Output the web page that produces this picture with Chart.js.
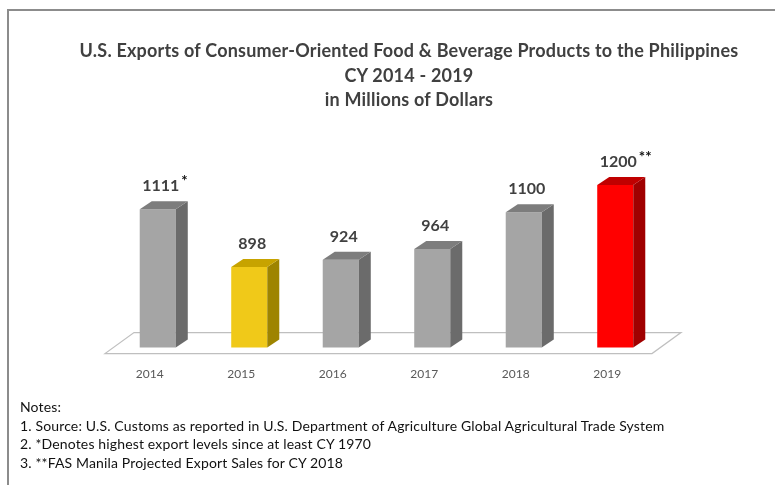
<!DOCTYPE html>
<html>
<head>
<meta charset="utf-8">
<script src="https://cdn.jsdelivr.net/npm/chart.js@4"></script>
<style>
  html, body { margin: 0; padding: 0; background: #fff; }
  #wrap { position: relative; width: 775px; height: 485px; overflow: hidden; }
  #frame { position: absolute; left: 7px; top: 9px; right: -5px; bottom: -5px;
           border-top: 2px solid #8c8c8c; border-left: 2px solid #8c8c8c; }
  #chart { position: absolute; left: 0; top: 0; }
  #title { position: absolute; left: 40px; width: 738px; top: 38px; text-align: center;
           font: bold 18px Lato, sans-serif; letter-spacing: 0.2px; line-height: 24.5px; color: #404040; }
  #notes { position: absolute; left: 20px; top: 398px; font: 14px Lato, sans-serif;
           letter-spacing: 0.15px; line-height: 18.5px; color: #111; }
</style>
</head>
<body>
<div id="wrap">
  <div id="frame"></div>
  <canvas id="chart" width="775" height="485"></canvas>
  <div id="title">U.S. Exports of Consumer-Oriented Food &amp; Beverage Products to the Philippines<br>CY 2014 - 2019<br>in Millions of Dollars</div>
  <div id="notes">Notes:<br>1. Source: U.S. Customs as reported in U.S. Department of Agriculture Global Agricultural Trade System<br>2. *Denotes highest export levels since at least CY 1970<br>3. **FAS Manila Projected Export Sales for CY 2018</div>
</div>
<script>
document.addEventListener('DOMContentLoaded', function () {
    // Data
    const years = ['2014', '2015', '2016', '2017', '2018', '2019'];
    const exportValues = [1111, 898, 924, 964, 1100, 1200];
    const valueMarks = ['*', '', '', '', '', '**'];

    const frontColors = ['#a5a5a5', '#f0c919', '#a5a5a5', '#a5a5a5', '#a5a5a5', '#ff0000'];
    const sideColors = ['#6b6b6b', '#9e8400', '#6b6b6b', '#6b6b6b', '#6b6b6b', '#a00000'];
    const topColors = ['#7d7d7d', '#c7a300', '#7d7d7d', '#7d7d7d', '#7d7d7d', '#c00000'];

    const depthX = 12, depthY = 8;

    // Draws the floor, the 3D faces and the value labels
    const bar3d = {
        id: 'bar3d',
        beforeDatasetsDraw(chart) {
            const ctx = chart.ctx;
            const xs = chart.scales.x;
            const base = chart.chartArea.bottom;
            const fl = xs.left - 7, fr = xs.right - 9, fy = base + 6;
            ctx.save();
            ctx.beginPath();
            ctx.moveTo(fl, fy);
            ctx.lineTo(fr, fy);
            ctx.lineTo(fr + 29, fy - 21);
            ctx.lineTo(fl + 29, fy - 21);
            ctx.closePath();
            ctx.fillStyle = '#ffffff';
            ctx.fill();
            ctx.strokeStyle = '#bfbfbf';
            ctx.lineWidth = 1.2;
            ctx.stroke();
            ctx.restore();
        },
        afterDatasetsDraw(chart) {
            const ctx = chart.ctx;
            const meta = chart.getDatasetMeta(0);
            const b = chart.chartArea.bottom;
            ctx.save();
            meta.data.forEach(function (bar, i) {
                const l = bar.x - bar.width / 2, r = bar.x + bar.width / 2;
                const t = bar.y;
                // side
                ctx.beginPath();
                ctx.moveTo(r, t);
                ctx.lineTo(r + depthX, t - depthY);
                ctx.lineTo(r + depthX, b - depthY);
                ctx.lineTo(r, b);
                ctx.closePath();
                ctx.fillStyle = sideColors[i];
                ctx.fill();
                // top
                ctx.beginPath();
                ctx.moveTo(l, t);
                ctx.lineTo(l + depthX, t - depthY);
                ctx.lineTo(r + depthX, t - depthY);
                ctx.lineTo(r, t);
                ctx.closePath();
                ctx.fillStyle = topColors[i];
                ctx.fill();

                // value label
                const txt = String(exportValues[i]);
                const cx = bar.x + 3, cy = t - depthY - 15;
                ctx.font = 'bold 16px Lato, sans-serif';
                ctx.fillStyle = '#404040';
                ctx.textAlign = 'center';
                ctx.textBaseline = 'middle';
                ctx.fillText(txt, cx, cy);
                if (valueMarks[i]) {
                    const w = ctx.measureText(txt).width;
                    ctx.font = 'bold 15px Lato, sans-serif';
                    ctx.fillStyle = '#111';
                    ctx.textAlign = 'left';
                    ctx.fillText(valueMarks[i], cx + w / 2 + 2, cy - 5);
                }
            });
            ctx.restore();
        }
    };

    const ctx = document.getElementById('chart').getContext('2d');
    new Chart(ctx, {
        type: 'bar',
        data: {
            labels: years,
            datasets: [{
                data: exportValues,
                backgroundColor: frontColors,
                borderWidth: 0,
                barPercentage: 1,
                categoryPercentage: 0.394
            }]
        },
        options: {
            responsive: false,
            animation: false,
            layout: { padding: { left: 112, right: 114, top: 158, bottom: 85 } },
            plugins: {
                legend: { display: false },
                tooltip: { enabled: false }
            },
            scales: {
                y: { display: false, min: 600, max: 1300 },
                x: {
                    grid: { display: false, drawTicks: false },
                    border: { display: false },
                    ticks: {
                        padding: 19,
                        labelOffset: -8,
                        color: '#595959',
                        font: { family: 'Lato', size: 12 }
                    }
                }
            }
        },
        plugins: [bar3d]
    });
});
</script>
</body>
</html>
